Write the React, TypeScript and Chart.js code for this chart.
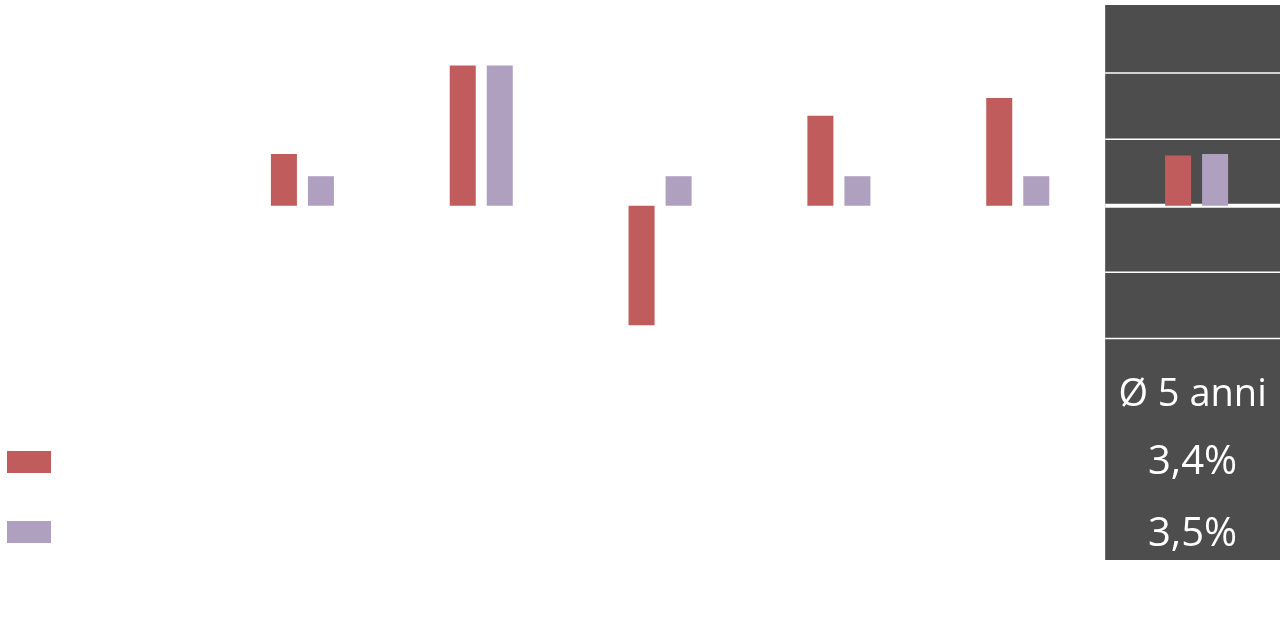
import { useEffect, useRef } from "react"
import { Chart, registerables } from "chart.js"

Chart.register(...registerables)

// categories: five years plus the 5-year average column
const categories = ["1", "2", "3", "4", "5", "Ø 5 anni"]
const redValues = [3.5, 9.5, -8.1, 6.1, 7.3, 3.4]
const purpleValues = [2.0, 9.5, 2.0, 2.0, 2.0, 3.5]
const gridValues = [9, 4.5, 0, -4.5, -9]
const averageLabels = ["Ø 5 anni", "3,4%", "3,5%"]

const RED = "#C05C5C"
const PURPLE = "#B0A0C0"
const PANEL = "#4D4D4D"

const panelPlugin = {
  id: "panel",
  beforeDatasetsDraw(chart: any) {
    const { ctx, chartArea, scales } = chart
    const x = scales.x
    const y = scales.y
    const left = (x.getPixelForValue(4) + x.getPixelForValue(5)) / 2 - 2
    ctx.save()
    ctx.fillStyle = PANEL
    ctx.fillRect(left, chartArea.top, chart.width - left, chartArea.bottom - chartArea.top)
    ctx.strokeStyle = "#ffffff"
    gridValues.forEach((v) => {
      const py = y.getPixelForValue(v)
      ctx.lineWidth = v === 0 ? 4 : 1.5
      ctx.beginPath()
      ctx.moveTo(left, py)
      ctx.lineTo(chart.width, py)
      ctx.stroke()
    })
    ctx.restore()
  },
  afterDraw(chart: any) {
    const { ctx, scales } = chart
    const x = scales.x
    const left = (x.getPixelForValue(4) + x.getPixelForValue(5)) / 2 - 2
    const cx = (left + 1280) / 2
    ctx.save()
    ctx.fillStyle = "#ffffff"
    ctx.textAlign = "center"
    ctx.textBaseline = "alphabetic"
    const baselines = [406, 474, 546]
    averageLabels.forEach((t, i) => {
      ctx.font = i === 0 ? "38px 'Open Sans'" : "40px 'Open Sans'"
      ctx.fillText(t, cx, baselines[i])
    })

    // legend swatches
    chart.data.datasets.forEach((ds: any, i: number) => {
      ctx.fillStyle = ds.backgroundColor
      ctx.fillRect(7, 451 + i * 70, 44, 22)
    })
    ctx.restore()
  },
}

function BarChart() {
  const chartRef = useRef<HTMLCanvasElement>(null)
  const chartInstance = useRef<Chart | null>(null)

  useEffect(() => {
    if (!chartRef.current) return
    if (chartInstance.current) chartInstance.current.destroy()
    const ctx = chartRef.current.getContext("2d")
    if (!ctx) return

    chartInstance.current = new Chart(ctx, {
      type: "bar",
      data: {
        labels: categories,
        datasets: [
          {
            label: "Serie 1",
            data: redValues,
            backgroundColor: RED,
            categoryPercentage: 0.414,
            barPercentage: 0.703,
          },
          {
            label: "Serie 2",
            data: purpleValues,
            backgroundColor: PURPLE,
            categoryPercentage: 0.414,
            barPercentage: 0.703,
          },
        ],
      },
      options: {
        responsive: false,
        animation: false,
        layout: { padding: { left: 213, top: 5, bottom: 80, right: 0 } },
        scales: {
          x: { display: false },
          y: { display: false, min: -24, max: 13.6 },
        },
        plugins: {
          legend: { display: false },
          tooltip: { enabled: false },
        },
      },
      plugins: [panelPlugin],
    })

    return () => {
      if (chartInstance.current) {
        chartInstance.current.destroy()
        chartInstance.current = null
      }
    }
  }, [])

  return <canvas ref={chartRef} width={1286} height={640} />
}

export default function App() {
  return (
    <div
      style={{
        position: "fixed",
        left: 0,
        top: 0,
        width: 1280,
        height: 640,
        overflow: "hidden",
        background: "#ffffff",
      }}
    >
      <BarChart />
    </div>
  )
}
